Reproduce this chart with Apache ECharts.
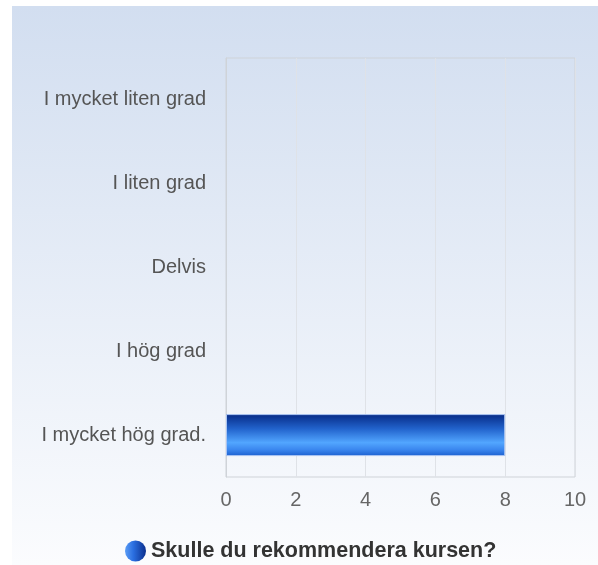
<!DOCTYPE html>
<html>
<head>
<meta charset="utf-8">
<script src="https://cdn.jsdelivr.net/npm/echarts@6/dist/echarts.min.js"></script>
<style>
html,body{margin:0;padding:0;background:#fff;}
#chart{width:598px;height:565px;}
</style>
</head>
<body>
<div id="chart"></div>
<script>
var categories = ["I mycket liten grad", "I liten grad", "Delvis", "I hög grad", "I mycket hög grad."];
var values = [0, 0, 0, 0, 8];
var seriesName = "Skulle du rekommendera kursen?";
var xTicks = {min: 0, max: 10, interval: 2};

var chart = echarts.init(document.getElementById('chart'), null, {renderer: 'canvas'});
var font = '"Liberation Sans", Arial, sans-serif';
var barData = values.map(function (v) {
  return {value: v, itemStyle: {borderWidth: v > 0 ? 1 : 0}};
});
chart.setOption({
  animation: false,
  graphic: [{
    type: 'rect', z: -10, silent: true,
    shape: {x: 12, y: 6, width: 586, height: 559},
    style: {fill: new echarts.graphic.LinearGradient(0, 0, 0, 1, [
      {offset: 0, color: '#d2def0'},
      {offset: 1, color: '#fbfcfe'}
    ])}
  }],
  grid: {left: 226, top: 58, right: 23, bottom: 88, show: true, borderColor: '#cfd3d8', borderWidth: 1, backgroundColor: 'transparent'},
  xAxis: {
    type: 'value', min: xTicks.min, max: xTicks.max, interval: xTicks.interval,
    axisLine: {show: false}, axisTick: {show: false},
    splitLine: {show: true, lineStyle: {color: '#dfe2e7', width: 1}},
    axisLabel: {color: '#666', fontSize: 20, fontFamily: font, margin: 13}
  },
  yAxis: {
    type: 'category', data: categories, inverse: true,
    axisLine: {show: true, lineStyle: {color: '#cfd3d8'}}, axisTick: {show: false},
    splitLine: {show: false},
    axisLabel: {color: '#555', fontSize: 20, fontFamily: font, margin: 20}
  },
  legend: {
    left: 120, top: 535, itemWidth: 21, itemHeight: 21, icon: 'circle',
    textStyle: {color: '#333', fontSize: 21.5, fontWeight: 'bold', fontFamily: font},
    data: [{name: seriesName, itemStyle: {borderWidth: 0, color: new echarts.graphic.LinearGradient(0, 0, 1, 0, [
      {offset: 0, color: '#5a9cf5'},
      {offset: 0.4, color: '#2a6ee0'},
      {offset: 1, color: '#0b2f8e'}
    ])}}]
  },
  series: [{
    name: seriesName, type: 'bar', data: barData, barWidth: 42,
    itemStyle: {
      borderColor: '#a9c4f2',
      color: new echarts.graphic.LinearGradient(0, 0, 0, 1, [
        {offset: 0, color: '#062a86'},
        {offset: 0.35, color: '#2263cc'},
        {offset: 0.68, color: '#52a6ff'},
        {offset: 0.85, color: '#3a86ee'},
        {offset: 1, color: '#1b5fcf'}
      ])
    }
  }]
});
</script>
</body>
</html>
